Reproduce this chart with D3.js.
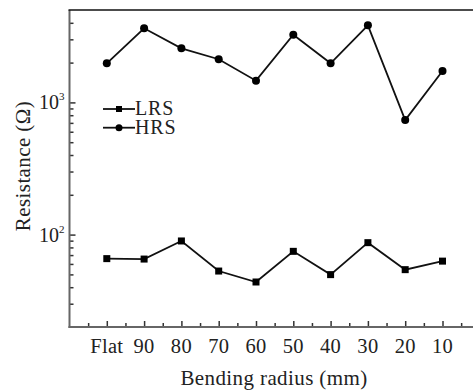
<!DOCTYPE html>
<html>
<head>
<meta charset="utf-8">
<script src="https://cdn.jsdelivr.net/npm/d3@7"></script>
<style>
  body { margin: 0; background: #fff; }
  svg text { font-family: "Liberation Serif", "DejaVu Serif", serif; }
</style>
</head>
<body>
<svg width="473" height="390"></svg>
<script>
var categories = ["Flat", "90", "80", "70", "60", "50", "40", "30", "20", "10"];
var lrsValues = [65.8, 65.3, 89.5, 53, 43.8, 74.7, 49.8, 86.9, 54.3, 63];
var hrsValues = [1975, 3640, 2565, 2120, 1460, 3250, 1975, 3830, 735, 1727];
var majorTicks = [100, 1000];

var svg = d3.select("svg"),
    margin = {top: 10, left: 69.5, bottom: 327},
    step = 37.3,
    font = "Liberation Serif";

var x = d3.scaleLinear()
          .domain([-1, categories.length])
          .range([margin.left, margin.left + step * (categories.length + 1)]);

var y = d3.scaleLog()
          .domain([20, 5000])
          .range([margin.bottom, margin.top]);

// minor y ticks 2..9 per decade
var minorY = [];
[10, 100, 1000].forEach(function(dec) {
  for (var k = 2; k <= 9; k++) {
    var v = dec * k;
    if (v > 20 && v < 5000) minorY.push(v);
  }
});

var g = svg.append("g");

// y axis, ticks pointing in
g.append("g")
  .attr("transform", "translate(" + margin.left + ",0)")
  .call(d3.axisRight(y).tickValues(minorY).tickSize(4).tickFormat(""))
  .call(function(a) { a.select(".domain").remove(); })
  .selectAll("line").attr("stroke", "#333").attr("stroke-width", 1.5);

g.append("g")
  .attr("transform", "translate(" + margin.left + ",0)")
  .call(d3.axisRight(y).tickValues(majorTicks).tickSize(6).tickFormat(""))
  .call(function(a) { a.select(".domain").remove(); })
  .selectAll("line").attr("stroke", "#333").attr("stroke-width", 1.5);

g.append("line")
  .attr("x1", margin.left).attr("x2", margin.left)
  .attr("y1", y.range()[1]).attr("y2", y.range()[0] + 1)
  .attr("stroke", "#666").attr("stroke-width", 2);

// y tick labels 10^n
majorTicks.forEach(function(v) {
  var t = g.append("text")
    .attr("x", margin.left - 5)
    .attr("y", y(v) + 7)
    .attr("text-anchor", "end")
    .attr("font-family", font)
    .style("font-size", "20px")
    .attr("fill", "#222");
  t.append("tspan").text("10");
  t.append("tspan").attr("dy", -9).style("font-size", "11px").text(Math.round(Math.log10(v)));
});

// x axis, ticks pointing in
g.append("g")
  .attr("transform", "translate(0," + margin.bottom + ")")
  .call(d3.axisTop(x).tickValues(d3.range(categories.length)).tickSize(6).tickFormat(""))
  .call(function(a) { a.select(".domain").remove(); })
  .selectAll("line").attr("stroke", "#333").attr("stroke-width", 1.5);

g.append("g")
  .attr("transform", "translate(0," + margin.bottom + ")")
  .call(d3.axisTop(x).tickValues(d3.range(categories.length + 1).map(function(i) { return i - 0.5; })).tickSize(4).tickFormat(""))
  .call(function(a) { a.select(".domain").remove(); })
  .selectAll("line").attr("stroke", "#333").attr("stroke-width", 1.5);

g.append("line")
  .attr("x1", margin.left - 1).attr("x2", 473)
  .attr("y1", margin.bottom).attr("y2", margin.bottom)
  .attr("stroke", "#666").attr("stroke-width", 2);

// top frame
g.append("line")
  .attr("x1", margin.left - 1).attr("x2", 473)
  .attr("y1", margin.top).attr("y2", margin.top)
  .attr("stroke", "#111").attr("stroke-width", 1.5);

g.selectAll(".xlab")
  .data(categories)
  .enter().append("text")
    .attr("class", "xlab")
    .attr("x", function(d, i) { return x(i); })
    .attr("y", margin.bottom + 26)
    .attr("text-anchor", "middle")
    .attr("font-family", font)
    .style("font-size", "20.5px")
    .style("letter-spacing", "0.3px")
    .attr("fill", "#222")
    .text(function(d) { return d; });

// axis titles
svg.append("text")
  .attr("x", 274)
  .attr("y", 385)
  .attr("text-anchor", "middle")
  .attr("font-family", font)
  .style("font-size", "21px")
  .style("letter-spacing", "0.4px")
  .attr("fill", "#222")
  .text("Bending radius (mm)");

svg.append("text")
  .attr("transform", "translate(30,166) rotate(-90)")
  .attr("text-anchor", "middle")
  .attr("font-family", font)
  .style("font-size", "21px")
  .style("letter-spacing", "0.4px")
  .attr("fill", "#222")
  .text("Resistance (\u03A9)");

// series
var line = d3.line()
  .x(function(d, i) { return x(i); })
  .y(function(d) { return y(d); });

[lrsValues, hrsValues].forEach(function(vals) {
  g.append("path")
    .datum(vals)
    .attr("d", line)
    .attr("fill", "none")
    .attr("stroke", "#111")
    .attr("stroke-width", 1.8);
});

g.selectAll(".lrs")
  .data(lrsValues)
  .enter().append("rect")
    .attr("class", "lrs")
    .attr("x", function(d, i) { return x(i) - 3.5; })
    .attr("y", function(d) { return y(d) - 3.5; })
    .attr("width", 7)
    .attr("height", 7)
    .attr("fill", "#000");

g.selectAll(".hrs")
  .data(hrsValues)
  .enter().append("circle")
    .attr("class", "hrs")
    .attr("cx", function(d, i) { return x(i); })
    .attr("cy", function(d) { return y(d); })
    .attr("r", 4)
    .attr("fill", "#000");

// legend
var legend = svg.append("g").attr("transform", "translate(103,109)");
[{name: "LRS", sym: "square"}, {name: "HRS", sym: "circle"}].forEach(function(d, i) {
  var row = legend.append("g").attr("transform", "translate(0," + i * 18.7 + ")");
  row.append("line")
    .attr("x1", 0).attr("x2", 32)
    .attr("stroke", "#111").attr("stroke-width", 1.8);
  if (d.sym === "square") {
    row.append("rect").attr("x", 13).attr("y", -3).attr("width", 6).attr("height", 6).attr("fill", "#000");
  } else {
    row.append("circle").attr("cx", 16).attr("r", 3.5).attr("fill", "#000");
  }
  row.append("text")
    .attr("x", 32)
    .attr("y", 6)
    .attr("font-family", font)
    .style("font-size", "20px")
    .style("letter-spacing", "0.8px")
    .attr("fill", "#222")
    .text(d.name);
});
</script>
</body>
</html>
